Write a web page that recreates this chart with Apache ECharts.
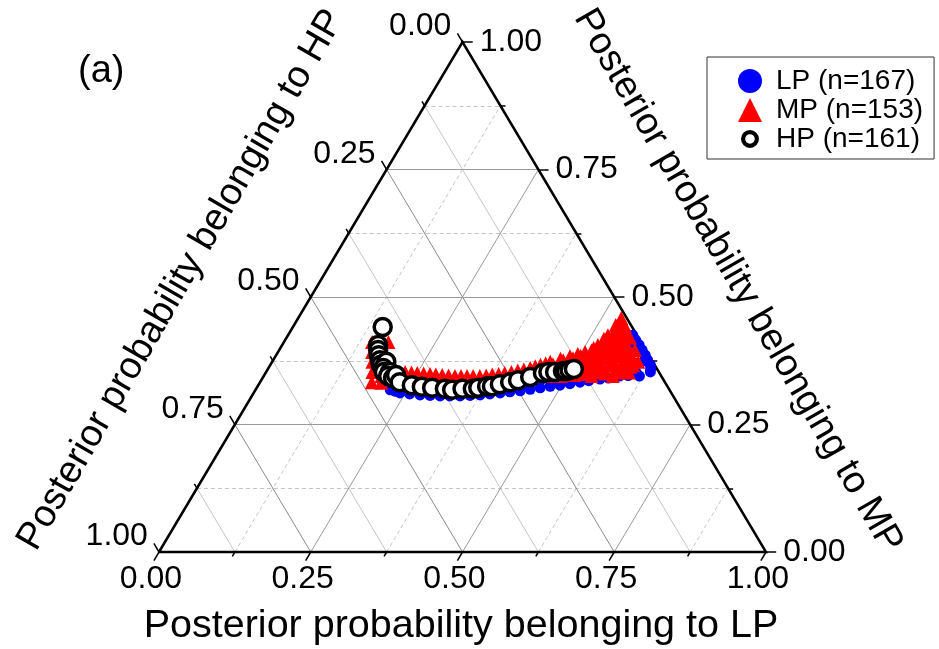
<!DOCTYPE html>
<html>
<head>
<meta charset="utf-8">
<script src="https://cdn.jsdelivr.net/npm/echarts@6/dist/echarts.min.js"></script>
<style>
  html, body { margin: 0; padding: 0; background: #fff; }
  #chart { width: 939px; height: 649px; }
</style>
</head>
<body>
<div id="chart"></div>
<script>
// Posterior class-membership probabilities, one [LP, MP] pair per sample; HP = 1 - LP - MP
const lpClass = [
  [0.568,0.425],[0.588,0.406],[0.608,0.386],[0.626,0.367],[0.633,0.353],[0.619,0.345],
  [0.586,0.345],[0.557,0.339],[0.527,0.333],[0.497,0.327],[0.467,0.322],[0.437,0.316],
  [0.406,0.312],[0.375,0.308],[0.343,0.306],[0.310,0.306],[0.276,0.308],[0.241,0.312],
  [0.222,0.318],[0.300,0.330],[0.400,0.335],[0.500,0.350],[0.550,0.370],[0.580,0.390],
  [0.600,0.370],[0.575,0.410],[0.595,0.395],[0.612,0.375],[0.545,0.355],[0.460,0.335],
  [0.350,0.320],[0.250,0.325],[0.200,0.335],
  [0.578,0.415],[0.598,0.396],[0.617,0.376],[0.630,0.360],[0.610,0.352],[0.600,0.346],
  [0.570,0.341],[0.540,0.336],[0.512,0.330],[0.482,0.325],[0.452,0.319],[0.421,0.314],
  [0.390,0.310],[0.359,0.307],[0.326,0.306],[0.293,0.307],[0.258,0.310],[0.232,0.315]
];
const mpClass = [
  [0.145,0.412],[0.155,0.392],[0.165,0.373],[0.175,0.353],[0.184,0.333],[0.156,0.414],
  [0.172,0.412],[0.168,0.395],[0.178,0.378],[0.186,0.362],[0.194,0.345],[0.200,0.332],
  [0.197,0.361],[0.229,0.353],[0.272,0.349],[0.315,0.345],[0.356,0.345],[0.394,0.351],
  [0.431,0.361],[0.458,0.373],[0.485,0.384],[0.506,0.392],[0.520,0.406],[0.527,0.425],
  [0.530,0.445],[0.532,0.459],[0.210,0.357],[0.250,0.351],[0.293,0.347],[0.335,0.345],
  [0.375,0.348],[0.413,0.356],[0.445,0.367],[0.472,0.379],[0.496,0.388],
  [0.546,0.443],[0.566,0.420],[0.586,0.396],[0.603,0.373],[0.595,0.363],
  [0.527,0.349],[0.550,0.353],[0.573,0.357],
  [0.530,0.376],[0.550,0.386],[0.556,0.406],[0.538,0.425],[0.537,0.396],[0.578,0.380],
  [0.508,0.373],[0.527,0.367],[0.497,0.361],[0.485,0.353],[0.511,0.347],[0.460,0.353],
  [0.565,0.395],[0.545,0.415],[0.520,0.385],[0.500,0.375],
  [0.250,0.330],[0.300,0.325],[0.350,0.327],[0.400,0.335],[0.450,0.345],[0.220,0.340],
  [0.270,0.338],[0.320,0.336],[0.370,0.337],[0.420,0.342],
  [0.440,0.352],[0.470,0.362],[0.490,0.370],[0.505,0.380],[0.515,0.395],[0.525,0.410],
  [0.535,0.410],[0.540,0.440],[0.555,0.430],[0.560,0.370],[0.570,0.385],[0.585,0.370],
  [0.590,0.355],[0.575,0.345],[0.540,0.345],[0.555,0.395],[0.525,0.395],[0.512,0.360],
  [0.490,0.345],[0.475,0.345],[0.530,0.355],[0.565,0.405],[0.548,0.400],[0.535,0.382],
  [0.558,0.378],[0.545,0.365],[0.520,0.375],
  [0.465,0.358],[0.465,0.368],[0.478,0.350],[0.478,0.366],[0.478,0.376],[0.492,0.356],
  [0.492,0.380],[0.502,0.352],[0.502,0.366],[0.502,0.385],[0.516,0.352],[0.516,0.366],
  [0.516,0.380],[0.516,0.400],[0.524,0.360],[0.524,0.372],[0.524,0.390],[0.524,0.418],
  [0.534,0.366],[0.534,0.392],[0.534,0.432],[0.534,0.450],[0.542,0.352],[0.542,0.376],
  [0.542,0.392],[0.542,0.428],[0.552,0.362],[0.552,0.418],[0.552,0.432],[0.560,0.350],
  [0.560,0.384],[0.560,0.412],[0.568,0.366],[0.568,0.392],[0.578,0.352],[0.578,0.366],
  [0.578,0.395],[0.588,0.362],[0.588,0.382],[0.598,0.352],[0.598,0.366],
  [0.240,0.352],[0.261,0.350],[0.282,0.348],[0.304,0.346],[0.325,0.345],[0.345,0.345],
  [0.366,0.346],[0.385,0.349],[0.404,0.353],[0.422,0.358],[0.438,0.364],[0.452,0.370]
];
const hpClass = [
  [0.148,0.441],[0.158,0.406],[0.163,0.396],[0.169,0.386],[0.176,0.376],[0.182,0.367],
  [0.188,0.373],[0.189,0.361],[0.194,0.353],[0.204,0.353],[0.205,0.345],[0.215,0.341],
  [0.217,0.347],[0.230,0.333],[0.253,0.327],[0.271,0.324],[0.289,0.322],[0.311,0.320],
  [0.324,0.318],[0.340,0.320],[0.357,0.320],[0.365,0.322],
  [0.378,0.325],[0.386,0.325],[0.397,0.329],[0.412,0.333],[0.423,0.337],
  [0.440,0.343],[0.457,0.351],[0.465,0.353],[0.476,0.353],
  [0.488,0.355],[0.493,0.355],[0.498,0.357],[0.504,0.359]
];
const seriesNames = ['LP (n=167)', 'MP (n=153)', 'HP (n=161)'];
const majorTicks = [0, 0.25, 0.5, 0.75, 1];
const minorTicks = [0.125, 0.375, 0.625, 0.875];
const titleLP = 'Posterior probability belonging to LP';
const titleMP = 'Posterior probability belonging to MP';
const titleHP = 'Posterior probability belonging to HP';
const panelTag = '(a)';

const FONT = "'Liberation Sans', Arial, Helvetica, sans-serif";

// Ternary -> cartesian: LP = 1 at bottom-right, MP = 1 at top, HP = 1 at bottom-left
function tern(lp, mp) { return [lp + mp / 2, mp]; }
const pts = arr => arr.map(p => tern(p[0], p[1]));

// grid lines
const majorGrey = { color: '#9a9a9a', width: 1, type: 'solid', opacity: 1 };
const majorDark = { color: '#8a8a8a', width: 1, type: 'solid', opacity: 1 };
const minorDash = { color: '#c4c4c4', width: 1, type: [4, 3], opacity: 1 };
const minorSolid = { color: '#c4c4c4', width: 1, type: 'solid', opacity: 1 };
const gridLines = [];
[...minorTicks, ...majorTicks.filter(t => t > 0 && t < 1)].forEach(t => {
  const major = majorTicks.includes(t);
  gridLines.push({ coords: [tern(0, t), tern(1 - t, t)], lineStyle: major ? majorGrey : minorDash });   // MP = t
  gridLines.push({ coords: [tern(t, 0), tern(t, 1 - t)], lineStyle: major ? majorGrey : minorDash });   // LP = t
  gridLines.push({ coords: [tern(1 - t, 0), tern(0, 1 - t)], lineStyle: major ? majorDark : minorSolid }); // HP = t
});

// ticks pointing outward along each family of constant lines
const MAJ = 0.0168, MIN = 0.0084;
const tickLines = [];
const bottomLabels = [], rightLabels = [], leftLabels = [];
[...majorTicks.map(t => [t, MAJ]), ...minorTicks.map(t => [t, MIN])].forEach(([t, d]) => {
  tickLines.push({ coords: [tern(t, 0), tern(t, -d)] });               // LP axis (bottom)
  tickLines.push({ coords: [tern(1 - t, t), tern(1 - t + d, t)] });    // MP axis (right)
  tickLines.push({ coords: [tern(0, 1 - t), tern(-d, 1 - t + d)] });   // HP axis (left)
});
majorTicks.forEach(t => {
  const txt = t.toFixed(2);
  bottomLabels.push({ name: txt, value: tern(t, -MAJ) });
  rightLabels.push({ name: txt, value: tern(1 - t + MAJ, t) });
  leftLabels.push({ name: txt, value: tern(-MAJ, 1 - t + MAJ) });
});

const labelSeries = (data, label) => ({
  type: 'scatter', data, symbolSize: 0, silent: true, clip: false, z: 4,
  itemStyle: { color: '#000', opacity: 1 },
  label: Object.assign({ show: true, formatter: '{b}', color: '#000', fontSize: 32, fontFamily: FONT, opacity: 1 }, label)
});

// open ring for the HP legend entry (corner specks keep the ring at its drawn size)
const ringIcon = 'path://M0,0L0.05,0L0.05,0.05L0,0.05ZM20,20L20.05,20L20.05,20.05L20,20.05Z' +
  'M10,2.5A7.5,7.5,0,1,1,9.99,2.5ZM10,6A4,4,0,1,0,10.01,6Z';

const chart = echarts.init(document.getElementById('chart'), null, { renderer: 'canvas' });
chart.setOption({
  animation: false,
  backgroundColor: '#fff',
  title: {
    text: panelTag, left: 73, top: 48,
    textStyle: { fontSize: 38, fontWeight: 'normal', fontFamily: FONT, color: '#000' }
  },
  grid: { left: 159, top: 42, width: 607, height: 510 },
  xAxis: { type: 'value', min: 0, max: 1, show: false },
  yAxis: { type: 'value', min: 0, max: 1, show: false },
  legend: {
    orient: 'vertical', left: 707, top: 57,
    padding: [10, 11, 6, 31], itemGap: 1, itemWidth: 24, itemHeight: 24,
    borderColor: '#333', borderWidth: 1, borderRadius: 0,
    textStyle: { fontSize: 28, fontFamily: FONT, color: '#000', padding: [0, 0, 0, 9] },
    data: [
      { name: seriesNames[0] },
      { name: seriesNames[1] },
      { name: seriesNames[2], icon: ringIcon, itemStyle: { color: '#000', borderWidth: 0 } }
    ]
  },
  graphic: [
    { type: 'text', x: 461, y: 626, silent: true,
      style: { text: titleLP, fontSize: 39.5, fontFamily: FONT, fill: '#000',
               textAlign: 'center', textVerticalAlign: 'middle', align: 'center', verticalAlign: 'middle' } },
    { type: 'text', x: 181, y: 280, rotation: Math.PI / 3, silent: true,
      style: { text: titleHP, fontSize: 38, fontFamily: FONT, fill: '#000',
               textAlign: 'center', textVerticalAlign: 'middle', align: 'center', verticalAlign: 'middle' } },
    { type: 'text', x: 738, y: 281, rotation: -Math.PI / 3, silent: true,
      style: { text: titleMP, fontSize: 38, fontFamily: FONT, fill: '#000',
               textAlign: 'center', textVerticalAlign: 'middle', align: 'center', verticalAlign: 'middle' } }
  ],
  series: [
    { type: 'lines', coordinateSystem: 'cartesian2d', data: gridLines, silent: true, clip: false, z: 1,
      lineStyle: { opacity: 1 } },
    { type: 'lines', coordinateSystem: 'cartesian2d', polyline: true, silent: true, clip: false, z: 3,
      data: [{ coords: [tern(0, 0), tern(1, 0), tern(0, 1), tern(0, 0)] }],
      lineStyle: { color: '#000', width: 2.5, type: 'solid', opacity: 1 } },
    { type: 'lines', coordinateSystem: 'cartesian2d', data: tickLines, silent: true, clip: false, z: 3,
      lineStyle: { color: '#000', width: 1.5, type: 'solid', opacity: 1 } },
    labelSeries(bottomLabels, { position: 'bottom', distance: 3, offset: [-3, 0] }),
    labelSeries(rightLabels, { position: 'right', distance: 7 }),
    labelSeries(leftLabels, { position: 'left', distance: 6, offset: [0, -7] }),
    { name: seriesNames[0], type: 'scatter', data: pts(lpClass), symbol: 'circle', symbolSize: 11,
      clip: false, z: 5, itemStyle: { color: '#0000ff', opacity: 1 } },
    { name: seriesNames[1], type: 'scatter', data: pts(mpClass), symbol: 'triangle', symbolSize: 14,
      clip: false, z: 6, itemStyle: { color: '#ff0000', opacity: 1 } },
    { name: seriesNames[2], type: 'scatter', data: pts(hpClass), symbol: 'circle', symbolSize: 17,
      clip: false, z: 7, itemStyle: { color: '#ffffff', borderColor: '#000', borderWidth: 3.5, opacity: 1 } }
  ]
});
</script>
</body>
</html>
